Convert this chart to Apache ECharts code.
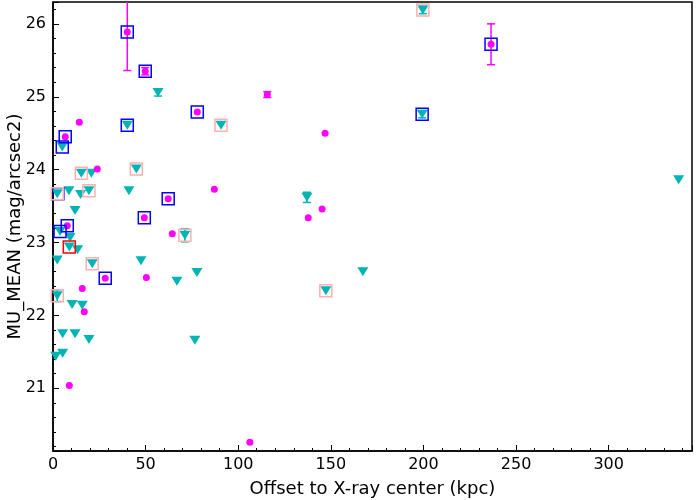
<!DOCTYPE html>
<html>
<head>
<meta charset="utf-8">
<script src="https://cdn.jsdelivr.net/npm/echarts@6/dist/echarts.min.js"></script>
<style>
  html, body { margin: 0; padding: 0; background: #fff; }
  #main { width: 700px; height: 500px; }
</style>
</head>
<body>
<div id="main"></div>
<script>
// magenta circles (x kpc, MU_MEAN)
var circleX = [40.1, 49.8, 77.9, 14.2, 6.6, 115.7, 146.9, 236.5, 23.9, 62.2, 49.3, 7.7, 64.4, 28.2, 50.4, 15.8, 16.9, 8.8, 87.1, 145.3, 137.8, 106.3];
var circleY = [25.89, 25.35, 24.79, 24.65, 24.45, 25.03, 24.50, 25.72, 24.01, 23.60, 23.34, 23.23, 23.12, 22.51, 22.52, 22.37, 22.05, 21.04, 23.73, 23.46, 23.34, 20.26];

// cyan down triangles
var triX = [56.7, 40.1, 90.7, 5.0, 199.7, 199.3, 337.8, 15.3, 20.7, 45.0, 2.3, 8.6, 14.9, 19.4, 41.0, 11.9, 3.8, 9.2, 8.8, 13.3, 71.2, 2.3, 21.2, 47.5, 77.7, 66.9, 2.3, 137.1, 147.3, 167.3, 10.3, 15.8, 5.2, 11.9, 19.4, 76.6, 5.2, 1.5];
var triY = [25.06, 24.61, 24.61, 24.31, 26.19, 24.76, 23.86, 23.95, 23.95, 24.01, 23.67, 23.71, 23.66, 23.71, 23.71, 23.44, 23.15, 23.07, 22.94, 22.90, 23.10, 22.76, 22.71, 22.75, 22.59, 22.47, 22.27, 23.62, 22.34, 22.60, 22.15, 22.14, 21.75, 21.75, 21.67, 21.66, 21.48, 21.44];

// square outlines
var blueBoxes = [[40.1, 25.89], [49.8, 25.35], [77.9, 24.79], [6.6, 24.45], [236.5, 25.72], [62.2, 23.60], [49.3, 23.34], [7.7, 23.23], [28.2, 22.51], [40.1, 24.61], [5.0, 24.31], [199.3, 24.76], [3.8, 23.15], [2.6, 23.67]];
var pinkBoxes = [[90.7, 24.61], [199.7, 26.19], [15.3, 23.95], [45.0, 24.01], [2.3, 23.67], [19.4, 23.71], [71.2, 23.10], [21.2, 22.71], [2.3, 22.27], [147.3, 22.34]];
var redBoxes = [[8.8, 22.94]];

// error bars [x, y, err]
var circleErr = [[40.1, 25.89, 0.53], [49.8, 25.35, 0.05], [115.7, 25.03, 0.04], [236.5, 25.72, 0.28]];
var triErr = [[56.7, 25.06, 0.05], [71.2, 23.10, 0.09], [137.1, 23.62, 0.07], [2.3, 22.27, 0.08], [199.7, 26.19, 0.05], [199.3, 24.76, 0.05]];

var xTicks = [0, 50, 100, 150, 200, 250, 300];

function pairs(xs, ys) {
  var out = [];
  for (var i = 0; i < xs.length; i++) out.push([xs[i], ys[i]]);
  return out;
}

function errRender(color) {
  return function (params, api) {
    var x = api.value(0), y = api.value(1), e = api.value(2);
    var lo = api.coord([x, y - e]);
    var hi = api.coord([x, y + e]);
    var w = 4;
    var st = { stroke: color, lineWidth: 1.5 };
    return {
      type: 'group',
      children: [
        { type: 'line', shape: { x1: lo[0], y1: lo[1], x2: hi[0], y2: hi[1] }, style: st },
        { type: 'line', shape: { x1: lo[0] - w, y1: lo[1], x2: lo[0] + w, y2: lo[1] }, style: st },
        { type: 'line', shape: { x1: hi[0] - w, y1: hi[1], x2: hi[0] + w, y2: hi[1] }, style: st }
      ]
    };
  };
}

function boxSeries(data, color) {
  return {
    type: 'scatter',
    data: data,
    symbol: 'rect',
    symbolSize: 12,
    silent: true,
    itemStyle: { color: 'rgba(0,0,0,0)', borderColor: color, borderWidth: 1.5, opacity: 1 },
    emphasis: { disabled: true },
    z: 4
  };
}

var myChart = echarts.init(document.getElementById('main'));
myChart.setOption({
  animation: false,
  textStyle: { fontFamily: 'DejaVu Sans' },
  grid: {
    left: 53, right: 8, top: 2, bottom: 49,
    containLabel: false, outerBoundsMode: 'none',
    show: true, borderColor: '#000', borderWidth: 1.5, backgroundColor: '#fff'
  },
  xAxis: {
    type: 'value',
    min: 0,
    max: 345,
    interval: 50,
    name: 'Offset to X-ray center (kpc)',
    nameLocation: 'middle',
    nameGap: 29,
    nameMoveOverlap: false,
    nameTextStyle: { color: '#000', fontSize: 18, fontFamily: 'DejaVu Sans' },
    axisLine: { lineStyle: { color: '#000', width: 1.5 } },
    axisTick: { inside: true, length: 6, lineStyle: { color: '#000' } },
    minorTick: { show: true, splitNumber: 5, length: 3, lineStyle: { color: '#000' } },
    axisLabel: {
      color: '#000', fontSize: 16, margin: 6, showMaxLabel: false,
      formatter: function (v) { return xTicks.indexOf(v) >= 0 ? String(v) : ''; }
    },
    splitLine: { show: false }
  },
  yAxis: {
    type: 'value',
    min: 20.14,
    max: 26.3,
    splitNumber: 6,
    name: 'MU_MEAN (mag/arcsec2)',
    nameLocation: 'middle',
    nameGap: 29,
    nameMoveOverlap: false,
    nameTextStyle: { color: '#000', fontSize: 18, fontFamily: 'DejaVu Sans' },
    axisLine: { lineStyle: { color: '#000', width: 1.5 } },
    axisTick: { inside: true, length: 6, lineStyle: { color: '#000' } },
    minorTick: { show: true, splitNumber: 5, length: 3, lineStyle: { color: '#000' } },
    axisLabel: {
      color: '#000', fontSize: 16, margin: 7, showMinLabel: false, showMaxLabel: false,
      formatter: function (v) { return Math.abs(v - Math.round(v)) < 1e-6 ? String(Math.round(v)) : ''; }
    },
    splitLine: { show: false }
  },
  series: [
    {
      type: 'custom',
      data: circleErr,
      renderItem: errRender('#ff00ff'),
      clip: true,
      silent: true,
      z: 2
    },
    {
      type: 'custom',
      data: triErr,
      renderItem: errRender('#00b4b4'),
      clip: true,
      silent: true,
      z: 2
    },
    {
      type: 'scatter',
      data: pairs(triX, triY),
      symbol: 'triangle',
      symbolRotate: 180,
      symbolSize: [11, 9],
      itemStyle: { color: '#00b4b4', opacity: 1 },
      z: 3
    },
    {
      type: 'scatter',
      data: pairs(circleX, circleY),
      symbol: 'circle',
      symbolSize: 7,
      itemStyle: { color: '#ff00ff', opacity: 1 },
      z: 3
    },
    boxSeries(blueBoxes, '#0000ff'),
    boxSeries(pinkBoxes, '#ffafaf'),
    boxSeries(redBoxes, '#ff0000')
  ]
});
</script>
</body>
</html>
